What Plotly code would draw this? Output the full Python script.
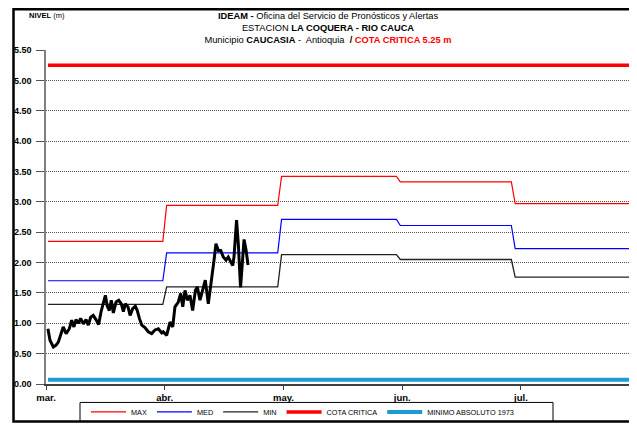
import pandas as pd
import plotly.graph_objects as go

# ---------------- data ----------------
month_names = ["mar.", "abr.", "may.", "jun.", "jul."]
month_numbers = [3, 4, 5, 6, 7]
max_vals = [2.35, 2.94, 3.42, 3.33, 2.97]
med_vals = [1.70, 2.16, 2.71, 2.61, 2.23]
min_vals = [1.31, 1.60, 2.13, 2.05, 1.76]
cota_critica = 5.25
minimo_absoluto = 0.07

period_start = "2015-03-01"
period_end = "2015-07-31"

obs_time = [
    "2015-03-01 00:00", "2015-03-01 13:00", "2015-03-02 10:00", "2015-03-03 03:00", "2015-03-03 17:00",
    "2015-03-04 08:00", "2015-03-05 00:00", "2015-03-05 18:00", "2015-03-06 14:00", "2015-03-07 05:00",
    "2015-03-07 19:00", "2015-03-08 08:00", "2015-03-08 23:00", "2015-03-09 13:00", "2015-03-10 06:00",
    "2015-03-10 23:00", "2015-03-11 13:00", "2015-03-12 04:00", "2015-03-12 20:00", "2015-03-13 13:00",
    "2015-03-14 06:00", "2015-03-14 21:00", "2015-03-15 11:00", "2015-03-16 00:00", "2015-03-16 12:00",
    "2015-03-17 01:00", "2015-03-17 13:00", "2015-03-18 02:00", "2015-03-18 19:00", "2015-03-19 12:00",
    "2015-03-20 04:00", "2015-03-20 17:00", "2015-03-21 05:00", "2015-03-21 22:00", "2015-03-22 11:00",
    "2015-03-23 03:00", "2015-03-23 20:00", "2015-03-24 08:00", "2015-03-24 21:00", "2015-03-25 12:00",
    "2015-03-26 08:00", "2015-03-27 05:00", "2015-03-28 02:00", "2015-03-28 23:00", "2015-03-29 20:00",
    "2015-03-30 17:00", "2015-03-31 03:00", "2015-04-01 00:00", "2015-04-01 21:00", "2015-04-02 14:00",
    "2015-04-03 04:00", "2015-04-04 01:00", "2015-04-04 16:00", "2015-04-05 05:00", "2015-04-05 19:00",
    "2015-04-06 10:00", "2015-04-07 02:00", "2015-04-07 19:00", "2015-04-08 12:00", "2015-04-09 00:00",
    "2015-04-09 17:00", "2015-04-10 10:00", "2015-04-11 02:00", "2015-04-11 21:00", "2015-04-12 08:00",
    "2015-04-12 18:00", "2015-04-13 09:00", "2015-04-13 21:00", "2015-04-14 12:00", "2015-04-15 03:00",
    "2015-04-15 19:00", "2015-04-16 12:00", "2015-04-17 02:00", "2015-04-17 18:00", "2015-04-18 06:00",
    "2015-04-18 14:00", "2015-04-19 06:00", "2015-04-19 17:00", "2015-04-20 07:00", "2015-04-20 21:00",
    "2015-04-21 05:00", "2015-04-21 18:00", "2015-04-22 06:00",
]
obs_level = [
    0.91, 0.72, 0.61, 0.64, 0.69,
    0.80, 0.94, 0.83, 0.91, 1.05,
    0.94, 1.06, 1.00, 1.08, 0.99,
    1.06, 0.97, 1.10, 1.13, 1.06,
    0.98, 1.19, 1.32, 1.46, 1.28,
    1.21, 1.38, 1.17, 1.35, 1.38,
    1.32, 1.19, 1.32, 1.27, 1.13,
    1.24, 1.28, 1.21, 1.08, 0.97,
    0.93, 0.86, 0.83, 0.89, 0.91,
    0.84, 0.86, 0.80, 1.02, 0.94,
    1.27, 1.35, 1.49, 1.27, 1.54,
    1.38, 1.46, 1.21, 1.54, 1.60,
    1.38, 1.57, 1.71, 1.32, 1.60,
    1.74, 2.04, 2.31, 2.20, 2.20,
    2.09, 2.04, 2.09, 2.01, 1.95,
    2.09, 2.70, 2.31, 1.59, 2.09,
    2.38, 2.20, 1.96,
]

tick_vals = ["2015-02-28 12:00", "2015-03-31 12:00", "2015-05-01 12:00",
             "2015-06-01 12:00", "2015-07-02 12:00"]
tick_text = month_names
y_ticks = [0.0, 0.5, 1.0, 1.5, 2.0, 2.5, 3.0, 3.5, 4.0, 4.5, 5.0, 5.5]

# ---------------- build daily reference series ----------------
days = pd.date_range(period_start, period_end, freq="D")
m_max = dict(zip(month_numbers, max_vals))
m_med = dict(zip(month_numbers, med_vals))
m_min = dict(zip(month_numbers, min_vals))
daily_max = [m_max[d.month] for d in days]
daily_med = [m_med[d.month] for d in days]
daily_min = [m_min[d.month] for d in days]
daily_cota = [cota_critica] * len(days)
daily_minabs = [minimo_absoluto] * len(days)

FONT = "Liberation Sans Narrow, Arial Narrow, Liberation Sans, Arial, sans-serif"

# page body has an 8px default margin: figure is drawn 8px right / 8px down
OFF = 8
W, H = 637 - OFF, 424 - OFF
PL, PR, PT, PB = 46 - OFF, 632 - OFF, 50 - OFF, 383.6 - OFF   # plot area in figure px
PW, PH = PR - PL, PB - PT


def px(xpage):
    return (xpage - OFF - PL) / PW


def py(ypage):
    return (PB - (ypage - OFF)) / PH


fig = go.Figure()
fig.add_trace(go.Scatter(x=days, y=daily_max, mode="lines", name="MAX",
                         line=dict(color="#ff0000", width=1.2)))
fig.add_trace(go.Scatter(x=days, y=daily_med, mode="lines", name="MED",
                         line=dict(color="#0000ff", width=1.2)))
fig.add_trace(go.Scatter(x=days, y=daily_min, mode="lines", name="MIN",
                         line=dict(color="#222222", width=1.3)))
fig.add_trace(go.Scatter(x=days, y=daily_cota, mode="lines", name="COTA CRITICA",
                         line=dict(color="#ff0000", width=3.5)))
fig.add_trace(go.Scatter(x=days, y=daily_minabs, mode="lines", name="MINIMO ABSOLUTO 1973",
                         line=dict(color="#1b9bd1", width=4)))
fig.add_trace(go.Scatter(x=pd.to_datetime(obs_time), y=obs_level, mode="lines",
                         name="NIVEL", showlegend=False,
                         line=dict(color="#000000", width=3)))

fig.update_layout(
    width=W, height=H,
    margin=dict(l=PL, r=W - PR, t=PT, b=H - PB, autoexpand=False),
    paper_bgcolor="white", plot_bgcolor="white",
    font=dict(family=FONT, size=10, color="black"),
    title=dict(
        text=("<b>IDEAM -</b> Oficina del Servicio de Pronósticos y Alertas<br>"
              "ESTACION <b>LA COQUERA - RIO CAUCA</b><br>"
              "Municipio <b>CAUCASIA</b> -  Antioquia  <b>/ </b>"
              "<span style='color:#ff0000'><b>COTA CRITICA 5.25 m</b></span>"),
        x=(328 - OFF) / W, xanchor="center", xref="container",
        y=1 - 11 / H, yanchor="top", yref="container",
        font=dict(family=FONT, size=9.3, color="black"),
    ),
    showlegend=True,
    legend=dict(
        orientation="h", x=px(86), xanchor="left",
        y=py(411.5), yanchor="middle",
        font=dict(family=FONT, size=7.3, color="black"),
        bgcolor="rgba(0,0,0,0)", borderwidth=0,
        itemwidth=35, tracegroupgap=0,
    ),
    xaxis=dict(
        type="date",
        range=["2015-02-28 12:00", "2015-07-31 12:00"],
        tickmode="array", tickvals=tick_vals, ticktext=tick_text,
        ticks="outside", ticklen=4, tickcolor="#404040", tickwidth=1,
        showgrid=False, zeroline=False,
        showline=True, linecolor="#404040", linewidth=1.5,
        tickfont=dict(family=FONT, size=9.5, color="black", weight="bold"),
    ),
    yaxis=dict(
        range=[0, 5.5],
        tickmode="array", tickvals=y_ticks, tickformat=".2f",
        ticks="outside", ticklen=8, tickcolor="#555555", tickwidth=1,
        showgrid=True, gridcolor="#555555", gridwidth=1, griddash="1px,1px",
        zeroline=False,
        showline=True, linecolor="#808080", linewidth=1.5,
        tickfont=dict(family=FONT, size=9, color="black", weight="bold"),
        ticklabelstandoff=3,
    ),
    annotations=[
        dict(text="<b>NIVEL</b> (m)", xref="paper", yref="paper",
             x=px(27), y=py(16), xanchor="left", yanchor="middle",
             showarrow=False, font=dict(family=FONT, size=7.5, color="black")),
    ],
    shapes=[
        # outer frame
        dict(type="rect", xref="paper", yref="paper",
             x0=px(13.5), x1=px(634), y0=py(421), y1=py(9.3),
             line=dict(color="black", width=2.5), fillcolor="rgba(0,0,0,0)", layer="above"),
        # legend box
        dict(type="rect", xref="paper", yref="paper",
             x0=px(80), x1=px(553), y0=py(421), y1=py(402),
             line=dict(color="black", width=1), fillcolor="rgba(0,0,0,0)", layer="above"),
        # right border of plot area
        dict(type="line", xref="paper", yref="paper", x0=1, x1=1, y0=0, y1=1,
             line=dict(color="#404040", width=1)),
    ],
)

fig.write_html("out.html")
